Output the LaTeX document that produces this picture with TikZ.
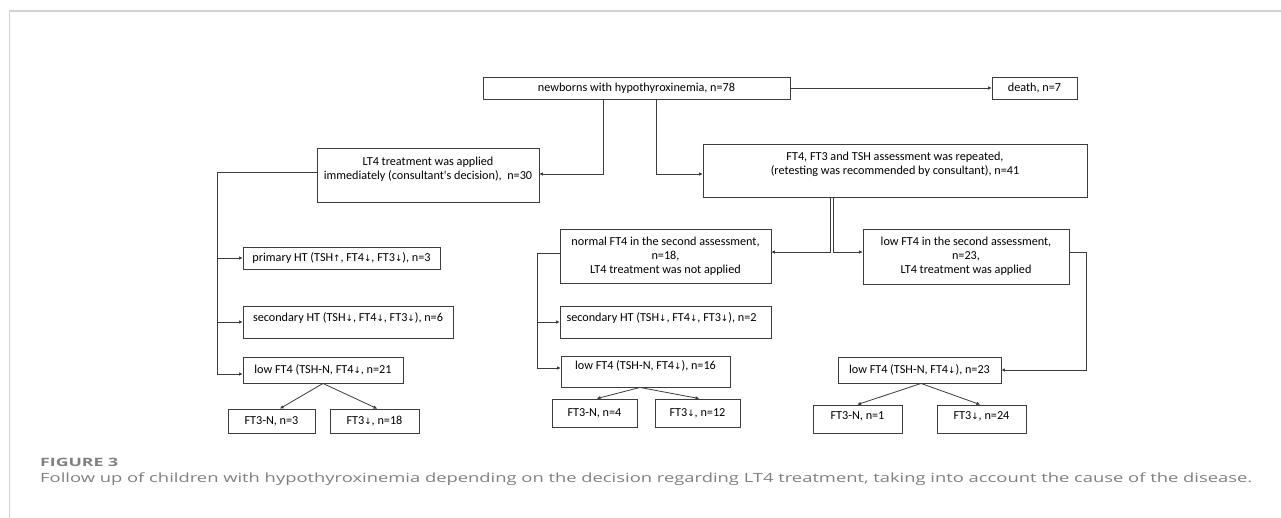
\documentclass[tikz,border=0pt]{standalone}
\usepackage{fontspec}
\usepackage{graphicx}
\usetikzlibrary{arrows.meta,calc}
\newfontfamily\diagfont{Carlito}
\newfontfamily\capfont{Open Sans}
\newfontfamily\symfont{DejaVu Sans}
\newcommand\arrdn{{\symfont\scalebox{0.72}{↓}}}
\newcommand\arrup{{\symfont\scalebox{0.72}{↑}}}
\definecolor{ln}{HTML}{3C3C3C}
\definecolor{frame}{HTML}{D2D2D2}
\definecolor{capgray}{HTML}{808080}
\begin{document}
\begin{tikzpicture}[x=1pt,y=-1pt,
  box/.style={draw=ln, line width=0.9pt, font=\diagfont\fontsize{12.2}{14}\selectfont, text=black, inner sep=2pt, align=center},
  up/.style={text height=8pt, text depth=#1},
  arr/.style={draw=ln, line width=0.8pt, -{Triangle[length=3.5pt,width=3pt]}},
  lnk/.style={draw=ln, line width=0.8pt}]
\useasboundingbox[fill=white] (0,0) rectangle (1281,518);
% frame
\draw[frame, line width=2pt] (9,11) -- (1281,11);
\draw[frame, line width=1pt] (9,11) -- (9,518);
% boxes
\node[box, minimum width=307pt, minimum height=22pt] (top) at (636.5,88) {newborns with hypothyroxinemia, n=78};
\node[box, minimum width=85pt, minimum height=22pt] (death) at (1034.5,88) {death, n=7};
\node[box, minimum width=222pt, minimum height=54pt] (lt4) at (428,175) {LT4 treatment was applied\\immediately (consultant's decision),\ \ n=30\\\mbox{}};
\node[box, minimum width=384pt, minimum height=53pt] (ft4) at (895,170.5) {FT4, FT3 and TSH assessment was repeated,\\(retesting was recommended by consultant), n=41\\\mbox{}};
\node[box, minimum width=211pt, minimum height=54pt] (normal) at (665.5,256) {normal FT4 in the second assessment,\\n=18,\\LT4 treatment was not applied};
\node[box, minimum width=206pt, minimum height=55pt] (low2) at (966,256.5) {low FT4 in the second assessment,\\n=23,\\LT4 treatment was applied};
\node[box, minimum width=197pt, minimum height=22pt] (prim) at (341.5,258) {primary HT (TSH\arrup, FT4\arrdn, FT3\arrdn), n=3};
\node[box, up=10pt, minimum width=210pt, minimum height=32pt] (sec6) at (348,322) {secondary HT (TSH\arrdn, FT4\arrdn, FT3\arrdn), n=6};
\node[box, minimum width=160pt, minimum height=26pt] (low21) at (323,370) {low FT4 (TSH-N, FT4\arrdn, n=21};
\node[box, minimum width=87pt, minimum height=24pt] (f3n3) at (271.5,421) {FT3-N, n=3};
\node[box, minimum width=89pt, minimum height=24pt] (f3d18) at (374.5,421) {FT3\arrdn, n=18};
\node[box, up=10pt, minimum width=211pt, minimum height=32pt] (sec2) at (665.5,322) {\hspace*{-8pt}secondary HT (TSH\arrdn, FT4\arrdn, FT3\arrdn), n=2};
\node[box, up=12pt, minimum width=169pt, minimum height=31pt] (low16) at (645.5,371.5) {low FT4 (TSH-N, FT4\arrdn), n=16};
\node[box, minimum width=85pt, minimum height=28pt] (f3n4) at (594.5,413) {FT3-N, n=4};
\node[box, minimum width=85pt, minimum height=28pt] (f3d12) at (697.5,413) {FT3\arrdn, n=12};
\node[box, minimum width=163pt, minimum height=26pt] (low23) at (919.5,370) {low FT4 (TSH-N, FT4\arrdn), n=23};
\node[box, up=8pt, minimum width=89pt, minimum height=28pt] (f3n1) at (857.5,419) {FT3-N, n=1};
\node[box, up=8pt, minimum width=89pt, minimum height=28pt] (f3d24) at (981.5,419) {FT3\arrdn, n=24};
% connectors
\draw[arr] (top.east) -- (death.west);
\draw[arr] ([xshift=-33.5pt]top.south) |- ([yshift=1pt]lt4.east);
\draw[arr] ([xshift=19.5pt]top.south) |- ([yshift=-3.5pt]ft4.west);
\draw[arr] ([xshift=-65pt]ft4.south) |- ([yshift=4pt]normal.east);
\draw[arr] ([xshift=-62pt]ft4.south) |- ([yshift=4.5pt]low2.west);
\coordinate (rc) at (1086,252);
\draw[arr] ([yshift=4.5pt]low2.east) -- (rc) |- (low23.east);
\coordinate (lb) at (217,374);
\draw[arr] ([yshift=3pt]lt4.west) -| (lb) -- ([yshift=-4pt]low21.west);
\draw[arr] (lb |- prim.west) -- (prim.west);
\draw[arr] (lb |- sec6.west) -- (sec6.west);
\coordinate (mb) at (537,368);
\draw[arr] ([yshift=3pt]normal.west) -| (mb) -- ([yshift=3.5pt]low16.west);
\draw[arr] (mb |- sec2.west) -- (sec2.west);
\draw[arr] (low21.south) -- ([xshift=8.5pt]f3n3.north);
\draw[arr] (low21.south) -- ([xshift=2.5pt]f3d18.north);
\draw[arr] ([xshift=-5.5pt]low16.south) -- ([xshift=2.5pt]f3n4.north);
\draw[arr] ([xshift=-5.5pt]low16.south) -- ([xshift=1.5pt]f3d12.north);
\draw[arr] ([xshift=1.5pt]low23.south) -- (f3n1.north);
\draw[arr] ([xshift=1.5pt]low23.south) -- ([xshift=-1.5pt]f3d24.north);
% caption
\node[anchor=base west, inner sep=0pt, text=capgray, font=\capfont\bfseries\fontsize{11.5}{13}\selectfont] (figlab) at (40,466.7) {\resizebox{78pt}{\height}{FIGURE 3}};
\node[anchor=base west, inner sep=0pt, text=capgray, font=\capfont\fontsize{12.7}{15}\selectfont] (cap) at (40,482.3) {\resizebox{1212pt}{\height}{Follow up of children with hypothyroxinemia depending on the decision regarding LT4 treatment, taking into account the cause of the disease.}};
\end{tikzpicture}
\end{document}
